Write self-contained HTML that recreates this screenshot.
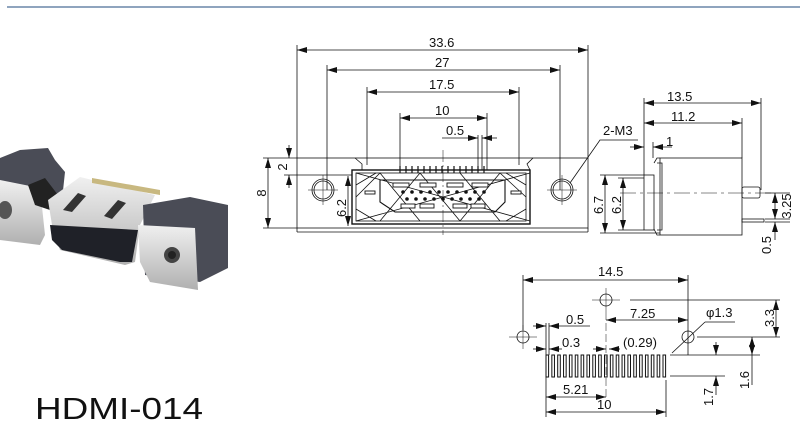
<!DOCTYPE html>
<html><head><meta charset="utf-8"><style>
html,body{margin:0;padding:0;background:#fff;width:800px;height:425px;overflow:hidden}
svg{display:block}
text{font-family:"Liberation Sans",Arial,sans-serif;fill:#111}
</style></head><body>
<svg width="800" height="425" viewBox="0 0 800 425" xmlns="http://www.w3.org/2000/svg">
<defs>
<marker id="a" viewBox="0 0 10 6" refX="10" refY="3" markerWidth="10" markerHeight="6" orient="auto-start-reverse" markerUnits="userSpaceOnUse"><path d="M0,0 L10,3 L0,6z" fill="#111"/></marker>
<linearGradient id="met" x1="0" y1="0" x2="0" y2="1"><stop offset="0" stop-color="#f0f0f0"/><stop offset="1" stop-color="#b0b0b0"/></linearGradient>
</defs>
<line x1="7" y1="7" x2="800" y2="7" stroke="#6a85a8" stroke-width="1.5"/>

<!-- photo -->
<g>
<polygon points="20,150 48,148 55,160 65,172 62,200 0,195 0,158" fill="#4a4c56"/>
<polygon points="0,180 40,188 45,235 40,245 0,240" fill="url(#met)"/>
<ellipse cx="5" cy="210" rx="7" ry="9" fill="#555"/>
<polygon points="28,185 45,178 58,195 50,210 35,205" fill="#222"/>
<polygon points="48,200 80,177 155,195 140,225 135,262 125,265 60,250 52,225" fill="url(#met)"/>
<polygon points="50,225 138,230 132,262 120,262 62,250 52,240" fill="#1f2128"/>
<polygon points="92,178 160,190 160,195 92,183" fill="#c8b880"/>
<polygon points="63,210 78,193 86,196 72,212" fill="#333"/>
<polygon points="104,216 118,200 126,203 112,219" fill="#333"/>
<polygon points="143,205 190,197 228,205 228,268 200,282 145,275" fill="#4a4c56"/>
<polygon points="138,225 195,228 198,290 150,282 140,262" fill="url(#met)"/>
<circle cx="172" cy="255" r="8" fill="#444"/>
<circle cx="172" cy="255" r="4" fill="#222"/>
</g>
<text x="35" y="419" font-size="31" textLength="168" lengthAdjust="spacingAndGlyphs">HDMI-014</text>

<g stroke="#111" stroke-width="0.8" fill="none">
<line x1="297" y1="45" x2="297" y2="158"/><line x1="588" y1="45" x2="588" y2="158"/>
<line x1="327" y1="65" x2="327" y2="190"/><line x1="560" y1="65" x2="560" y2="190"/>
<line x1="367" y1="87" x2="367" y2="165"/><line x1="519" y1="87" x2="519" y2="165"/>
<line x1="400" y1="113" x2="400" y2="170"/><line x1="487" y1="113" x2="487" y2="170"/>
<line x1="478" y1="135" x2="478" y2="170"/><line x1="482" y1="135" x2="482" y2="170"/>
<line x1="297" y1="50" x2="588" y2="50" marker-start="url(#a)" marker-end="url(#a)"/>
<line x1="327" y1="70" x2="560" y2="70" marker-start="url(#a)" marker-end="url(#a)"/>
<line x1="367" y1="92" x2="519" y2="92" marker-start="url(#a)" marker-end="url(#a)"/>
<line x1="400" y1="118" x2="487" y2="118" marker-start="url(#a)" marker-end="url(#a)"/>
<line x1="442" y1="138" x2="478" y2="138" marker-end="url(#a)"/>
<line x1="497" y1="138" x2="482" y2="138" marker-end="url(#a)"/>
<rect x="297" y="158" width="291" height="70"/>
<line x1="297" y1="228" x2="297" y2="232"/><line x1="588" y1="228" x2="588" y2="232"/>
<line x1="297" y1="232" x2="588" y2="232"/>
<rect x="352" y="170" width="178" height="54" stroke-width="1.4"/>
<rect x="356" y="173" width="170" height="48"/>
<path d="M356,173 L530,221 M356,221 L530,173 M356,197 L380,173 L420,221 M420,173 L460,221 M460,173 L500,221 M500,173 L526,197 M380,221 L420,173 M460,221 L500,173 M356,185 L376,173 M356,209 L376,221 M526,185 L506,173 M526,209 L506,221"/>
<path d="M355,158 L362,164 L362,170 M530,170 L527,164 L533,158"/>
<path d="M380,180 L505,180 L505,202 L495,212 L395,212 L380,202 Z" stroke-width="1.1"/>
<circle cx="323" cy="190" r="11"/><circle cx="323" cy="190" r="9"/>
<circle cx="562" cy="190" r="11"/><circle cx="562" cy="190" r="9"/>
<path d="M308,190 H338 M323,175 V205 M547,190 H577 M562,175 V205" stroke-width="0.5"/>
<line x1="443" y1="150" x2="443" y2="235" stroke-dasharray="12,3,2,3" stroke-width="0.5"/>
<g stroke-width="1.2">
<path d="M400,166 V173 M406,166 V173 M412,166 V173 M418,166 V173 M424,166 V173 M430,166 V173 M436,166 V173 M442,166 V173 M448,166 V173 M454,166 V173 M460,166 V173 M466,166 V173 M472,166 V173 M478,166 V173 M484,166 V173"/>
</g>
<g fill="#fff" stroke-width="0.9">
<rect x="393" y="183" width="16" height="4"/><rect x="420" y="183" width="16" height="4"/><rect x="447" y="183" width="16" height="4"/><rect x="472" y="183" width="16" height="4"/>
<rect x="401" y="204" width="14" height="4"/><rect x="420" y="204" width="14" height="4"/><rect x="453" y="204" width="14" height="4"/><rect x="471" y="204" width="14" height="4"/>
<rect x="365" y="191" width="10" height="3"/><rect x="511" y="191" width="10" height="3"/>
</g>
<g fill="#111" stroke="none">
<circle cx="403" cy="192" r="1.8"/><circle cx="412" cy="192" r="1.8"/><circle cx="421" cy="192" r="1.8"/><circle cx="430" cy="192" r="1.8"/><circle cx="439" cy="192" r="1.8"/><circle cx="448" cy="192" r="1.8"/><circle cx="457" cy="192" r="1.8"/><circle cx="466" cy="192" r="1.8"/><circle cx="475" cy="192" r="1.8"/><circle cx="484" cy="192" r="1.8"/>
<circle cx="407" cy="199" r="1.8"/><circle cx="416" cy="199" r="1.8"/><circle cx="425" cy="199" r="1.8"/><circle cx="434" cy="199" r="1.8"/><circle cx="443" cy="199" r="1.8"/><circle cx="452" cy="199" r="1.8"/><circle cx="461" cy="199" r="1.8"/><circle cx="470" cy="199" r="1.8"/><circle cx="479" cy="199" r="1.8"/>
</g>
<line x1="263" y1="158" x2="297" y2="158"/><line x1="263" y1="228" x2="297" y2="228"/>
<line x1="268" y1="158" x2="268" y2="228" marker-start="url(#a)" marker-end="url(#a)"/>
<line x1="284" y1="175" x2="352" y2="175"/>
<line x1="289" y1="145" x2="289" y2="158" marker-end="url(#a)"/>
<line x1="289" y1="188" x2="289" y2="175" marker-end="url(#a)"/>
<line x1="348" y1="176" x2="348" y2="226" marker-start="url(#a)" marker-end="url(#a)"/>
<polyline points="570,183 600,140 638,140"/>

<!-- side view -->
<line x1="644" y1="98" x2="644" y2="175"/><line x1="761" y1="98" x2="761" y2="190"/><line x1="742" y1="118" x2="742" y2="158"/>
<line x1="644" y1="103" x2="761" y2="103" marker-start="url(#a)" marker-end="url(#a)"/>
<line x1="644" y1="123" x2="742" y2="123" marker-start="url(#a)" marker-end="url(#a)"/>
<line x1="653" y1="142" x2="653" y2="158"/>
<line x1="630" y1="147" x2="644" y2="147" marker-end="url(#a)"/>
<line x1="672" y1="147" x2="653" y2="147" marker-end="url(#a)"/>
<rect x="644" y="175" width="10" height="55"/>
<rect x="660" y="158" width="82" height="77"/>
<path d="M654,163 L657,158 H660 M654,229 L657,235 H660 M657,163 H662 V230 H657"/>
<rect x="742" y="187" width="18" height="11" rx="2"/>
<rect x="742" y="219" width="22" height="3"/>
<line x1="620" y1="193" x2="775" y2="193" stroke-dasharray="16,4,3,4" stroke-width="0.5"/>
<line x1="600" y1="175" x2="644" y2="175"/><line x1="600" y1="233" x2="660" y2="233"/>
<line x1="605" y1="175" x2="605" y2="233" marker-start="url(#a)" marker-end="url(#a)"/>
<line x1="618" y1="178" x2="644" y2="178"/><line x1="618" y1="230" x2="644" y2="230"/>
<line x1="623" y1="178" x2="623" y2="230" marker-start="url(#a)" marker-end="url(#a)"/>
<line x1="765" y1="193" x2="790" y2="193"/><line x1="765" y1="219" x2="790" y2="219"/><line x1="765" y1="222" x2="790" y2="222"/>
<line x1="775" y1="193" x2="775" y2="219" marker-start="url(#a)" marker-end="url(#a)"/>
<line x1="775" y1="240" x2="775" y2="222" marker-end="url(#a)"/>

<!-- footprint -->
<line x1="523" y1="275" x2="523" y2="330"/><line x1="688" y1="275" x2="688" y2="355"/>
<line x1="523" y1="280" x2="688" y2="280" marker-start="url(#a)" marker-end="url(#a)"/>
<circle cx="606" cy="300" r="6"/><circle cx="523" cy="337" r="6"/><circle cx="688" cy="337" r="6"/>
<path d="M592,300 H620 M606,288 V312 M509,337 H537 M523,325 V349" stroke-width="0.5"/>
<line x1="630" y1="300" x2="780" y2="300"/>
<line x1="606" y1="312" x2="606" y2="400" stroke-dasharray="8,3" stroke-width="0.5"/>
<line x1="606" y1="320" x2="688" y2="320" marker-start="url(#a)" marker-end="url(#a)"/>
<line x1="672" y1="353" x2="705" y2="322"/><line x1="705" y1="322" x2="735" y2="322"/>
<line x1="697" y1="337" x2="780" y2="337"/>
<line x1="776" y1="300" x2="776" y2="337" marker-start="url(#a)" marker-end="url(#a)"/>
<g stroke-width="1">
<rect x="546" y="355" width="2.6" height="22"/><rect x="551.85" y="355" width="2.6" height="22"/><rect x="557.7" y="355" width="2.6" height="22"/><rect x="563.55" y="355" width="2.6" height="22"/><rect x="569.4" y="355" width="2.6" height="22"/><rect x="575.25" y="355" width="2.6" height="22"/><rect x="581.1" y="355" width="2.6" height="22"/><rect x="586.95" y="355" width="2.6" height="22"/><rect x="592.8" y="355" width="2.6" height="22"/><rect x="598.65" y="355" width="2.6" height="22"/><rect x="604.5" y="355" width="2.6" height="22"/><rect x="610.35" y="355" width="2.6" height="22"/><rect x="616.2" y="355" width="2.6" height="22"/><rect x="622.05" y="355" width="2.6" height="22"/><rect x="627.9" y="355" width="2.6" height="22"/><rect x="633.75" y="355" width="2.6" height="22"/><rect x="639.6" y="355" width="2.6" height="22"/><rect x="645.45" y="355" width="2.6" height="22"/><rect x="651.3" y="355" width="2.6" height="22"/><rect x="657.15" y="355" width="2.6" height="22"/><rect x="663" y="355" width="2.6" height="22"/>
</g>
<line x1="546" y1="323" x2="546" y2="417"/><line x1="549" y1="323" x2="549" y2="355"/><line x1="666" y1="380" x2="666" y2="417"/>
<line x1="533" y1="326" x2="546" y2="326" marker-end="url(#a)"/><line x1="590" y1="326" x2="549" y2="326" marker-end="url(#a)"/>
<line x1="533" y1="349" x2="546" y2="349" marker-end="url(#a)"/><line x1="562" y1="349" x2="549" y2="349" marker-end="url(#a)"/>
<line x1="593" y1="349" x2="606" y2="349" marker-end="url(#a)"/><line x1="620" y1="349" x2="609" y2="349" marker-end="url(#a)"/>
<line x1="546" y1="397" x2="606" y2="397" marker-start="url(#a)" marker-end="url(#a)"/>
<line x1="546" y1="412" x2="666" y2="412" marker-start="url(#a)" marker-end="url(#a)"/>
<line x1="670" y1="355" x2="760" y2="355"/><line x1="670" y1="376" x2="725" y2="376"/>
<line x1="716" y1="342" x2="716" y2="355" marker-end="url(#a)"/>
<line x1="716" y1="395" x2="716" y2="376" marker-end="url(#a)"/>
<line x1="752" y1="337" x2="752" y2="355" marker-start="url(#a)" marker-end="url(#a)"/>
<line x1="752" y1="355" x2="752" y2="385"/>
</g>

<g font-size="13">
<text x="429" y="47">33.6</text>
<text x="435" y="67">27</text>
<text x="429" y="89">17.5</text>
<text x="435" y="115">10</text>
<text x="446" y="135">0.5</text>
<text x="603" y="135">2-M3</text>
<text x="667" y="101">13.5</text>
<text x="671" y="121">11.2</text>
<text x="666" y="146">1</text>
<text x="598" y="276">14.5</text>
<text x="630" y="318">7.25</text>
<text x="706" y="317">φ1.3</text>
<text x="566" y="324">0.5</text>
<text x="562" y="347">0.3</text>
<text x="623" y="347">(0.29)</text>
<text x="563" y="394">5.21</text>
<text x="597" y="409">10</text>
<text transform="translate(266,193) rotate(-90)" text-anchor="middle">8</text>
<text transform="translate(287,167) rotate(-90)" text-anchor="middle">2</text>
<text transform="translate(346,208) rotate(-90)" text-anchor="middle">6.2</text>
<text transform="translate(603,205) rotate(-90)" text-anchor="middle">6.7</text>
<text transform="translate(621,205) rotate(-90)" text-anchor="middle">6.2</text>
<text transform="translate(791,206) rotate(-90)" text-anchor="middle">3.25</text>
<text transform="translate(771,245) rotate(-90)" text-anchor="middle">0.5</text>
<text transform="translate(774,318) rotate(-90)" text-anchor="middle">3.3</text>
<text transform="translate(749,380) rotate(-90)" text-anchor="middle">1.6</text>
<text transform="translate(713,397) rotate(-90)" text-anchor="middle">1.7</text>
</g>
</svg>
</body></html>
